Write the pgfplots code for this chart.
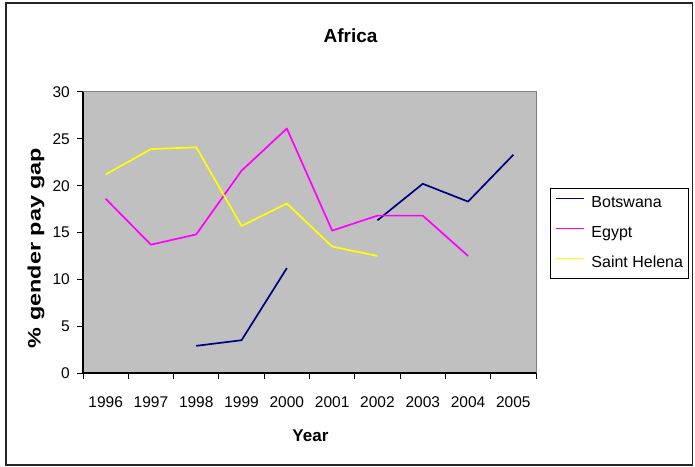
\documentclass[border=0pt]{standalone}
\usepackage{fontspec}
\setmainfont{Liberation Sans}
\usepackage{graphicx}
\usepackage{pgfplots}
\pgfplotsset{compat=1.18}
\definecolor{plotgray}{HTML}{C0C0C0}
\definecolor{botsw}{HTML}{000080}
\definecolor{egypt}{HTML}{FF00FF}
\definecolor{sthel}{HTML}{FFFF00}
\begin{document}
\begin{tikzpicture}[x=1pt,y=1pt]
\useasboundingbox (0,0) rectangle (695,466);
\draw[line width=1.3pt, black!85] (6,1) rectangle (692.5,463);
\begin{axis}[
  at={(83pt,93pt)}, anchor=south west,
  width=453pt, height=281pt, scale only axis,
  xmin=-0.5, xmax=9.5, ymin=0, ymax=30,
  axis x line*=bottom, axis y line*=left,
  axis line style={-, black, line width=1.1pt},
  axis background/.style={fill=plotgray, draw=gray, line width=1pt},
  xtick={0,1,2,3,4,5,6,7,8,9},
  xticklabels={1996,1997,1998,1999,2000,2001,2002,2003,2004,2005},
  minor xtick={-0.5,0.5,1.5,2.5,3.5,4.5,5.5,6.5,7.5,8.5,9.5},
  major x tick style={draw=none},
  ytick={0,5,10,15,20,25,30},
  tick align=outside,
  major tick length=6pt, minor tick length=6pt,
  tick style={black, line width=1pt},
  every tick label/.append style={font=\fontsize{15.5}{15.5}\selectfont},
  /pgf/number format/assume math mode=true,
  yticklabel style={anchor=east, inner sep=0pt, xshift=-7pt},
  xticklabel style={anchor=center, inner sep=0pt, yshift=-23pt},
  title={Africa},
  title style={at={(0.5905,1.178)}, anchor=center, inner sep=0pt, font=\bfseries\fontsize{19}{19}\selectfont},
  xlabel={Year},
  xlabel style={at={(0.502,-0.222)}, anchor=center, inner sep=0pt, font=\bfseries\fontsize{17}{17}\selectfont},
  ylabel={\scalebox{1.3}[1]{\% gender pay gap}},
  ylabel style={at={(-0.1038,0.445)}, anchor=center, inner sep=0pt, font=\bfseries\fontsize{18}{18}\selectfont},
  legend style={at={(1.031,0.658)}, anchor=north west, draw=black, fill=white,
    font=\fontsize{16}{16}\selectfont, row sep=15pt, column sep=7pt, inner xsep=5pt, inner ysep=7.5pt,
    nodes={inner sep=0pt, text height=11.5pt, text depth=3.5pt}},
  legend cell align=left,
  legend image code/.code={\draw[#1, line width=1.2pt] (0pt,5pt) -- (28pt,5pt);},
  unbounded coords=jump,
  every axis plot/.append style={line width=1.7pt, line join=round},
]
\addplot[draw=botsw] coordinates {(2,2.9) (3,3.5) (4,11.2) (5,nan) (6,16.3) (7,20.2) (8,18.3) (9,23.3)};
\addlegendentry{Botswana}
\addplot[draw=egypt] coordinates {(0,18.6) (1,13.7) (2,14.8) (3,21.6) (4,26.1) (5,15.2) (6,16.8) (7,16.8) (8,12.5)};
\addlegendentry{Egypt}
\addplot[draw=sthel] coordinates {(0,21.2) (1,23.9) (2,24.1) (3,15.7) (4,18.1) (5,13.5) (6,12.5)};
\addlegendentry{Saint Helena}
\end{axis}
\end{tikzpicture}
\end{document}
